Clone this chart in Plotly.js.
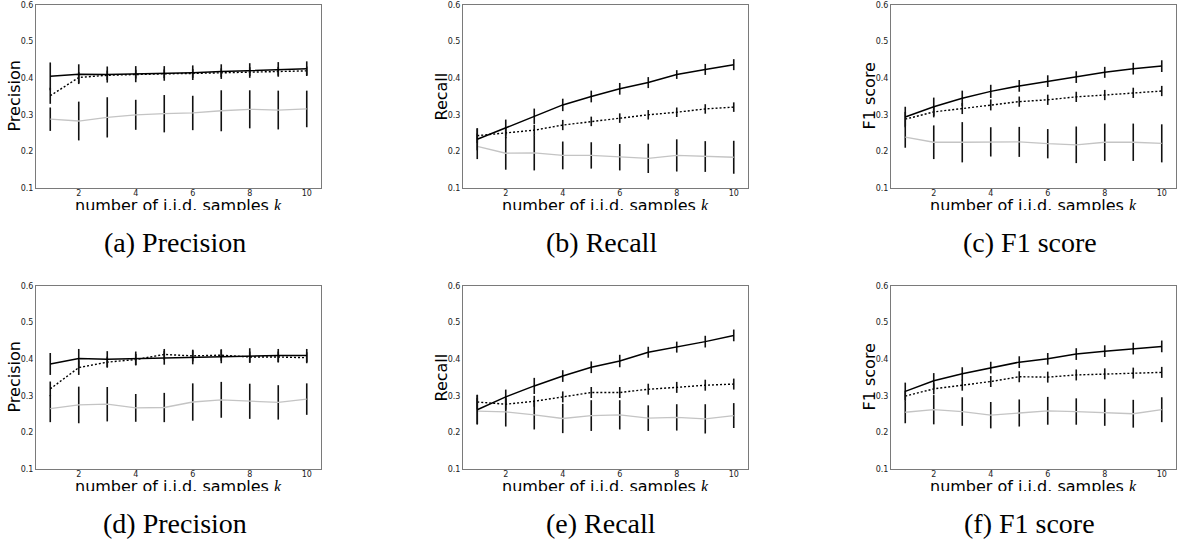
<!DOCTYPE html>
<html>
<head>
<meta charset="utf-8">
<script src="https://cdn.plot.ly/plotly-3.0.1.min.js"></script>
<style>
html,body{margin:0;padding:0;background:#fff;}
#chart{width:1177px;height:544px;}
</style>
</head>
<body>
<div id="chart"></div>
<script>
// ---------- data ----------
const kValues = [1, 2, 3, 4, 5, 6, 7, 8, 9, 10];
const xTickVals = [2, 4, 6, 8, 10];
const yTickVals = [0.1, 0.2, 0.3, 0.4, 0.5, 0.6];
const yTitles = ["Precision", "Recall", "F1 score", "Precision", "Recall", "F1 score"];
const captions = ["(a) Precision", "(b) Recall", "(c) F1 score", "(d) Precision", "(e) Recall", "(f) F1 score"];

// (a) Precision
const aSolid = [0.405, 0.411, 0.410, 0.411, 0.413, 0.415, 0.418, 0.421, 0.424, 0.426];
const aSolidErr = [0.038, 0.027, 0.022, 0.022, 0.020, 0.020, 0.020, 0.020, 0.020, 0.020];
const aDotted = [0.352, 0.402, 0.408, 0.411, 0.412, 0.413, 0.415, 0.418, 0.419, 0.420];
const aDottedErr = [0.022, 0.015, 0.013, 0.012, 0.012, 0.012, 0.012, 0.012, 0.012, 0.012];
const aGray = [0.288, 0.283, 0.293, 0.300, 0.303, 0.305, 0.311, 0.315, 0.313, 0.316];
const aGrayErr = [0.032, 0.053, 0.055, 0.041, 0.051, 0.047, 0.056, 0.052, 0.053, 0.050];

// (b) Recall
const bSolid = [0.233, 0.265, 0.296, 0.327, 0.350, 0.371, 0.388, 0.410, 0.424, 0.437];
const bSolidErr = [0.030, 0.022, 0.021, 0.017, 0.016, 0.016, 0.015, 0.012, 0.015, 0.015];
const bDotted = [0.243, 0.251, 0.258, 0.272, 0.282, 0.291, 0.300, 0.307, 0.316, 0.321];
const bDottedErr = [0.020, 0.015, 0.015, 0.014, 0.013, 0.013, 0.013, 0.013, 0.013, 0.013];
const bGray = [0.214, 0.195, 0.196, 0.189, 0.189, 0.184, 0.181, 0.189, 0.186, 0.184];
const bGrayErr = [0.035, 0.045, 0.048, 0.038, 0.036, 0.036, 0.040, 0.044, 0.042, 0.045];

// (c) F1 score
const cSolid = [0.294, 0.322, 0.345, 0.364, 0.379, 0.392, 0.403, 0.416, 0.426, 0.433];
const cSolidErr = [0.028, 0.025, 0.021, 0.018, 0.016, 0.016, 0.016, 0.015, 0.016, 0.016];
const cDotted = [0.288, 0.308, 0.317, 0.327, 0.336, 0.341, 0.349, 0.354, 0.360, 0.365];
const cDottedErr = [0.020, 0.015, 0.015, 0.015, 0.014, 0.014, 0.014, 0.014, 0.014, 0.014];
const cGray = [0.239, 0.225, 0.225, 0.226, 0.226, 0.221, 0.218, 0.225, 0.225, 0.222];
const cGrayErr = [0.029, 0.046, 0.055, 0.040, 0.041, 0.040, 0.050, 0.051, 0.051, 0.052];

// (d) Precision
const dSolid = [0.387, 0.402, 0.400, 0.402, 0.404, 0.406, 0.408, 0.410, 0.410, 0.410];
const dSolidErr = [0.030, 0.026, 0.022, 0.019, 0.019, 0.020, 0.019, 0.020, 0.018, 0.018];
const dDotted = [0.319, 0.377, 0.392, 0.399, 0.413, 0.409, 0.411, 0.406, 0.406, 0.404];
const dDottedErr = [0.020, 0.020, 0.015, 0.015, 0.015, 0.015, 0.015, 0.015, 0.015, 0.015];
const dGray = [0.265, 0.275, 0.277, 0.267, 0.268, 0.283, 0.289, 0.285, 0.282, 0.291];
const dGrayErr = [0.037, 0.050, 0.047, 0.038, 0.040, 0.051, 0.049, 0.048, 0.047, 0.043];

// (e) Recall
const eSolid = [0.262, 0.297, 0.327, 0.354, 0.378, 0.395, 0.419, 0.433, 0.448, 0.465];
const eSolidErr = [0.040, 0.020, 0.022, 0.016, 0.016, 0.017, 0.015, 0.015, 0.016, 0.016];
const eDotted = [0.283, 0.277, 0.285, 0.297, 0.309, 0.309, 0.318, 0.323, 0.329, 0.332];
const eDottedErr = [0.020, 0.015, 0.015, 0.015, 0.015, 0.015, 0.015, 0.015, 0.015, 0.015];
const eGray = [0.258, 0.256, 0.248, 0.238, 0.246, 0.248, 0.239, 0.241, 0.237, 0.246];
const eGrayErr = [0.036, 0.040, 0.040, 0.040, 0.042, 0.040, 0.035, 0.036, 0.040, 0.034];

// (f) F1 score
const fSolid = [0.312, 0.341, 0.360, 0.377, 0.392, 0.401, 0.414, 0.422, 0.429, 0.435];
const fSolidErr = [0.024, 0.021, 0.018, 0.016, 0.016, 0.016, 0.016, 0.016, 0.016, 0.016];
const fDotted = [0.299, 0.319, 0.329, 0.339, 0.352, 0.351, 0.357, 0.360, 0.362, 0.364];
const fDottedErr = [0.015, 0.015, 0.015, 0.015, 0.015, 0.015, 0.015, 0.015, 0.015, 0.015];
const fGray = [0.255, 0.262, 0.257, 0.247, 0.253, 0.259, 0.257, 0.255, 0.251, 0.262];
const fGrayErr = [0.030, 0.040, 0.039, 0.036, 0.037, 0.038, 0.036, 0.037, 0.038, 0.034];

const panels = [
  [aSolid, aSolidErr, aDotted, aDottedErr, aGray, aGrayErr],
  [bSolid, bSolidErr, bDotted, bDottedErr, bGray, bGrayErr],
  [cSolid, cSolidErr, cDotted, cDottedErr, cGray, cGrayErr],
  [dSolid, dSolidErr, dDotted, dDottedErr, dGray, dGrayErr],
  [eSolid, eSolidErr, eDotted, eDottedErr, eGray, eGrayErr],
  [fSolid, fSolidErr, fDotted, fDottedErr, fGray, fGrayErr]
];

// ---------- layout geometry (pixels) ----------
const W = 1177, H = 544;
const colLeft = [36, 463, 891];
const plotW = 285;
const rowTop = [5, 286];
const plotH = 183;
const px = v => v / W;
const py = v => 1 - v / H;

const traces = [];
const layout = {
  width: W, height: H,
  margin: {l: 0, r: 0, t: 0, b: 0, pad: 0},
  paper_bgcolor: "#ffffff",
  plot_bgcolor: "#ffffff",
  showlegend: false,
  font: {family: "DejaVu Sans", color: "#222"},
  annotations: []
};

const barColor = "#111111";

panels.forEach((p, i) => {
  const row = Math.floor(i / 3), col = i % 3;
  const n = i + 1;
  const xa = n === 1 ? "x" : "x" + n;
  const ya = n === 1 ? "y" : "y" + n;
  const left = colLeft[col], top = rowTop[row];
  const bottom = top + plotH;

  const mk = (y, err, color, dash, width) => ({
    x: kValues, y: y, xaxis: xa, yaxis: ya, type: "scatter", mode: "lines",
    line: {color: color, dash: dash, width: width},
    error_y: {type: "data", array: err, visible: true, width: 0, thickness: 1.6, color: barColor},
    hoverinfo: "skip"
  });
  traces.push(mk(p[4], p[5], "#c4c4c4", "solid", 1.3));
  traces.push(mk(p[2], p[3], "#000000", "2px,2px", 1.4));
  traces.push(mk(p[0], p[1], "#000000", "solid", 1.5));

  const axisCommon = {
    showline: true, mirror: true, linecolor: "#7a7a7a", linewidth: 1,
    showgrid: false, zeroline: false, ticks: "",
    tickfont: {family: "DejaVu Sans", size: 8, color: "#222"},
    fixedrange: true
  };
  layout["xaxis" + (n === 1 ? "" : n)] = Object.assign({}, axisCommon, {
    domain: [px(left), px(left + plotW)], anchor: ya,
    range: [0.5, 10.5], tickvals: xTickVals, ticklabelstandoff: -3
  });
  layout["yaxis" + (n === 1 ? "" : n)] = Object.assign({}, axisCommon, {
    domain: [py(bottom), py(top)], anchor: xa,
    range: [0.1, 0.6], tickvals: yTickVals, tickformat: ".1f", ticklabelstandoff: 0
  });

  // y-axis title
  layout.annotations.push({
    xref: "paper", yref: "paper", x: px(left - 22), y: py(top + plotH / 2),
    xanchor: "center", yanchor: "middle", textangle: -90, showarrow: false,
    text: yTitles[i], font: {family: "DejaVu Sans", size: 16, color: "#000"}
  });
  // x-axis title
  layout.annotations.push({
    xref: "paper", yref: "paper", x: px(left + plotW / 2), y: py(bottom + 17),
    xanchor: "center", yanchor: "middle", showarrow: false,
    text: "number of i.i.d. samples <span style=\"font-family:'Liberation Serif';font-style:italic\">k</span>",
    font: {family: "DejaVu Sans", size: 16, color: "#000"}
  });
  // crop mask below the x-axis title (the original figure is cropped there)
  layout.annotations.push({
    xref: "paper", yref: "paper", x: px(left + plotW / 2), y: py(bottom + 21.5),
    xanchor: "center", yanchor: "top", showarrow: false,
    text: "", width: plotW + 40, height: 14, bgcolor: "#ffffff", borderpad: 0, borderwidth: 0
  });
  // caption
  layout.annotations.push({
    xref: "paper", yref: "paper", x: px(left + plotW / 2 - 4), y: py(bottom + 54),
    xanchor: "center", yanchor: "middle", showarrow: false,
    text: captions[i], font: {family: "Liberation Serif", size: 28, color: "#000"}
  });
});

Plotly.newPlot("chart", traces, layout, {staticPlot: true, displayModeBar: false});
</script>
</body>
</html>
